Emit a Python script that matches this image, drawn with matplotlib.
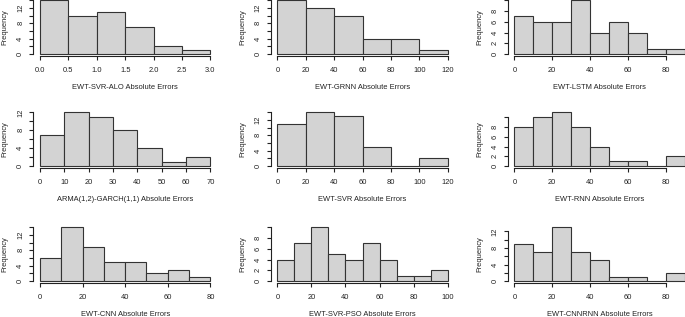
import numpy as np
import matplotlib
matplotlib.use('Agg')
import matplotlib.pyplot as plt

plt.rcParams['font.family'] = ['Liberation Sans', 'DejaVu Sans']

# histogram bins and counts (45 errors per model)
names = ['EWT-SVR-ALO Absolute Errors', 'EWT-GRNN Absolute Errors', 'EWT-LSTM Absolute Errors',
         'ARMA(1,2)-GARCH(1,1) Absolute Errors', 'EWT-SVR Absolute Errors', 'EWT-RNN Absolute Errors',
         'EWT-CNN Absolute Errors', 'EWT-SVR-PSO Absolute Errors', 'EWT-CNNRNN Absolute Errors']

edges_alo = [0, 0.5, 1.0, 1.5, 2.0, 2.5, 3.0]
counts_alo = [14, 10, 11, 7, 2, 1]
edges_grnn = [0, 20, 40, 60, 80, 100, 120]
counts_grnn = [14, 12, 10, 4, 4, 1]
edges_lstm = [0, 10, 20, 30, 40, 50, 60, 70, 80, 90]
counts_lstm = [7, 6, 6, 10, 4, 6, 4, 1, 1]
edges_garch = [0, 10, 20, 30, 40, 50, 60, 70]
counts_garch = [7, 12, 11, 8, 4, 1, 2]
edges_svr = [0, 20, 40, 60, 80, 100, 120]
counts_svr = [11, 14, 13, 5, 0, 2]
edges_rnn = [0, 10, 20, 30, 40, 50, 60, 70, 80, 90]
counts_rnn = [8, 10, 11, 8, 4, 1, 1, 0, 2]
edges_cnn = [0, 10, 20, 30, 40, 50, 60, 70, 80]
counts_cnn = [6, 14, 9, 5, 5, 2, 3, 1]
edges_pso = [0, 10, 20, 30, 40, 50, 60, 70, 80, 90, 100]
counts_pso = [4, 7, 10, 5, 4, 7, 4, 1, 1, 2]
edges_cnnrnn = [0, 10, 20, 30, 40, 50, 60, 70, 80, 90]
counts_cnnrnn = [9, 7, 13, 7, 5, 1, 1, 0, 2]

xticks_alo = [0.0, 0.5, 1.0, 1.5, 2.0, 2.5, 3.0]
xticks_120 = [0, 20, 40, 60, 80, 100, 120]
xticks_80 = [0, 20, 40, 60, 80]
xticks_garch = [0, 10, 20, 30, 40, 50, 60, 70]
xticks_100 = [0, 20, 40, 60, 80, 100]

edges = [edges_alo, edges_grnn, edges_lstm, edges_garch, edges_svr, edges_rnn,
         edges_cnn, edges_pso, edges_cnnrnn]
counts = [counts_alo, counts_grnn, counts_lstm, counts_garch, counts_svr, counts_rnn,
          counts_cnn, counts_pso, counts_cnnrnn]
xticks = [xticks_alo, xticks_120, xticks_80, xticks_garch, xticks_120, xticks_80,
          xticks_80, xticks_100, xticks_80]

# layout in pixels (R style 3x3 panels)
W, H = 685, 317
col_left = [33.2, 270.5, 507.5]
row_bot = [56.2, 168.2, 283.2]
pw, ph = 184, 58
ink = '#222222'
fs = 5.4

fig = plt.figure(figsize=(W / 100, H / 100), dpi=100)

for i in range(9):
    r, c = divmod(i, 3)
    ax = fig.add_axes([col_left[c] / W, 1 - row_bot[r] / H, pw / W, ph / H])
    e = np.array(edges[i], dtype=float)
    n = np.array(counts[i])
    ax.bar(e[:-1], n, width=np.diff(e), align='edge', color='#d3d3d3',
           edgecolor='#333333', linewidth=0.8)
    span = e[-1] - e[0]
    top = n.max()
    ax.set_xlim(e[0] - 0.04 * span, e[-1] + 0.04 * span)
    ax.set_ylim(-0.04 * top, 1.04 * top)

    yt = [v for v in range(0, 20, 2) if v <= 1.04 * top]
    if top >= 12:
        yl = [str(v) if (v % 4 == 0 and v <= 12) else '' for v in yt]
    else:
        yl = [str(v) if v <= 8 else '' for v in yt]
    ax.set_yticks(yt)
    ax.set_yticklabels(yl, rotation=90, va='center')
    xt = xticks[i]
    ax.set_xticks(xt)
    if i == 0:
        ax.set_xticklabels(['%.1f' % v for v in xt])
    else:
        ax.set_xticklabels([str(v) for v in xt])

    for s in ['top', 'right']:
        ax.spines[s].set_visible(False)
    ax.spines['left'].set_bounds(0, yt[-1])
    ax.spines['bottom'].set_bounds(xt[0], xt[-1])
    for s in ['left', 'bottom']:
        ax.spines[s].set_color(ink)
        ax.spines[s].set_linewidth(0.8)
    ax.tick_params(axis='both', direction='out', length=3, width=0.8, color=ink,
                   labelsize=fs, labelcolor=ink)
    ax.tick_params(axis='x', pad=4.5)
    ax.tick_params(axis='y', pad=3.5)
    ax.patch.set_visible(False)

    ax.set_xlabel(names[i], fontsize=fs, color=ink)
    ax.xaxis.set_label_coords(0.5, -31 / ph)
    ax.xaxis.label.set_va('center')
    ax.set_ylabel('Frequency', fontsize=fs, color=ink)
    ax.yaxis.set_label_coords(-28 / pw, 0.5)
    ax.yaxis.label.set_va('center')

fig.savefig('out.png', dpi=100)
